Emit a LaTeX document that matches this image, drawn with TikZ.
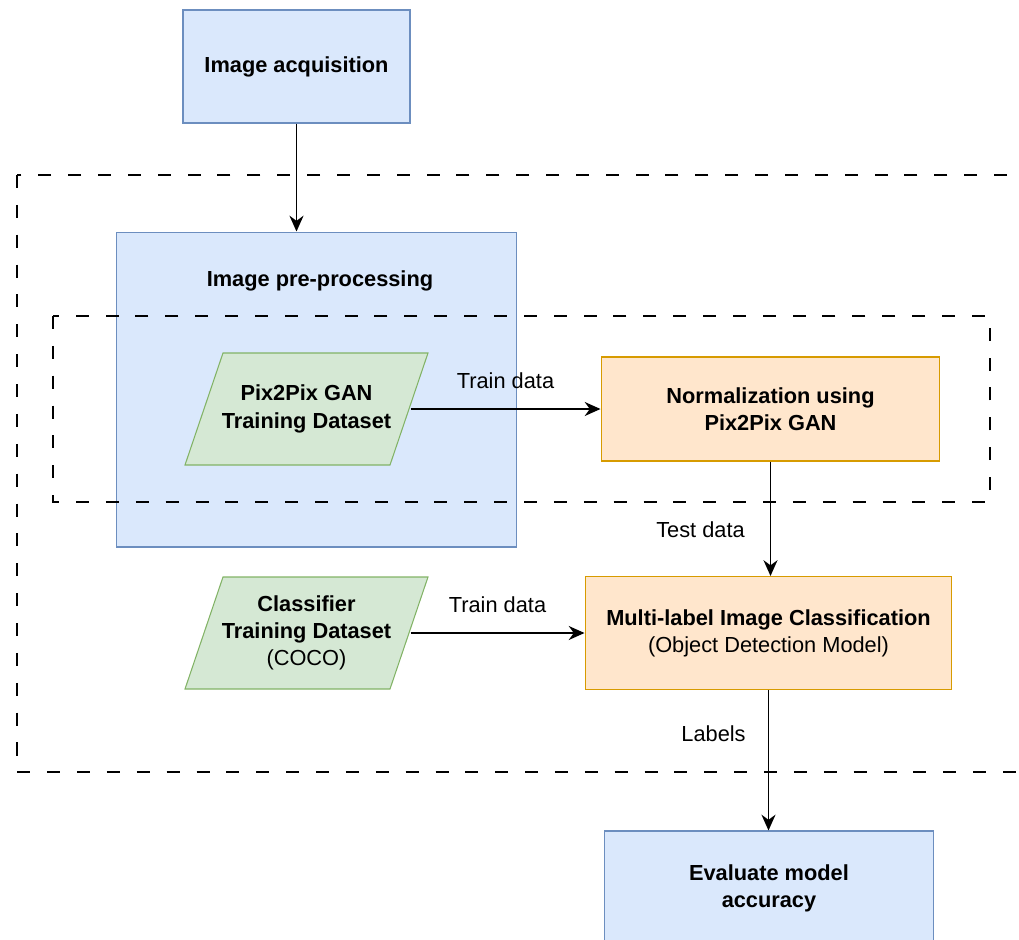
\documentclass[tikz,border=0pt]{standalone}
\usepackage{fontspec}
\setmainfont{Liberation Sans}
\usetikzlibrary{arrows.meta}
\definecolor{blueFill}{HTML}{DAE8FC}
\definecolor{blueLine}{HTML}{6C8EBF}
\definecolor{greenFill}{HTML}{D5E8D4}
\definecolor{greenLine}{HTML}{82B366}
\definecolor{orangeFill}{HTML}{FFE6CC}
\definecolor{orangeLine}{HTML}{D79B00}
\begin{document}
\begin{tikzpicture}[x=0.02cm, y=-0.02cm, ->, >={Stealth[length=9pt,width=8pt]},
    line width=0.85pt, font=\fontsize{12.4}{15.5}\selectfont,
    bluebox/.style={draw=blueLine, fill=blueFill, line width=0.6pt, align=center, font=\fontsize{12.4}{15.5}\selectfont\bfseries},
    orangebox/.style={draw=orangeLine, fill=orangeFill, line width=0.6pt, align=center},
    dataset/.style={-, draw=greenLine, fill=greenFill, line width=0.6pt},
    datatext/.style={inner sep=0pt, align=center, minimum width=4.14cm, minimum height=2.24cm},
    dashbox/.style={-, draw, dash pattern=on 7.4pt off 9.6pt, line width=0.9pt}]
    \useasboundingbox (0,0) rectangle (1019,940);
    % Outer frame and pre-processing
    \draw[dashbox] (17,175) rectangle (1050,772);
    \node[bluebox, minimum width=8.02cm, minimum height=6.3cm] (pre) at (316.5,389.5) {};
    \node[font=\fontsize{12.4}{15.5}\selectfont\bfseries] (preText) at (320,281) {Image pre-processing};
    \draw[dashbox] (53,316) rectangle (990,502);
    % Boxes
    \node[bluebox, minimum width=4.54cm, minimum height=2.26cm] (acq) at (296.5,66.5) {Image acquisition};
    \draw[dataset] (185,465) -- (223,353) -- (428,353) -- (390,465) -- cycle
        node[datatext] (pgan) at (306.5,409) {\bfseries Pix2Pix GAN\\\bfseries Training Dataset};
    \node[orangebox, minimum width=6.78cm, minimum height=2.08cm] (norm) at (770.5,409)
        {\bfseries Normalization using\\\bfseries Pix2Pix GAN};
    \draw[dataset] (185,689) -- (223,577) -- (428,577) -- (390,689) -- cycle
        node[datatext] (cls) at (306.5,633) {\bfseries Classifier\\\bfseries Training Dataset\\(COCO)};
    \node[orangebox, minimum width=7.34cm, minimum height=2.26cm] (multi) at (768.5,633)
        {\bfseries Multi-label Image Classification\\(Object Detection Model)};
    \node[bluebox, minimum width=6.6cm, minimum height=2.28cm] (eval) at (769,888) {Evaluate model\\accuracy};
    % Connectors
    \draw (acq.south) -- (acq.south |- pre.north);
    \draw (pgan.east) -- node[midway, yshift=0.56cm] {Train data} (norm.west);
    \draw (norm.south) -- node[pos=0.6, xshift=-1.4cm] {Test data} (norm.south |- multi.north);
    \draw (cls.east) -- node[midway, yshift=0.56cm] {Train data} (multi.west);
    \draw (multi.south) -- node[pos=0.31, xshift=-1.1cm] {Labels} (multi.south |- eval.north);
\end{tikzpicture}
\end{document}
